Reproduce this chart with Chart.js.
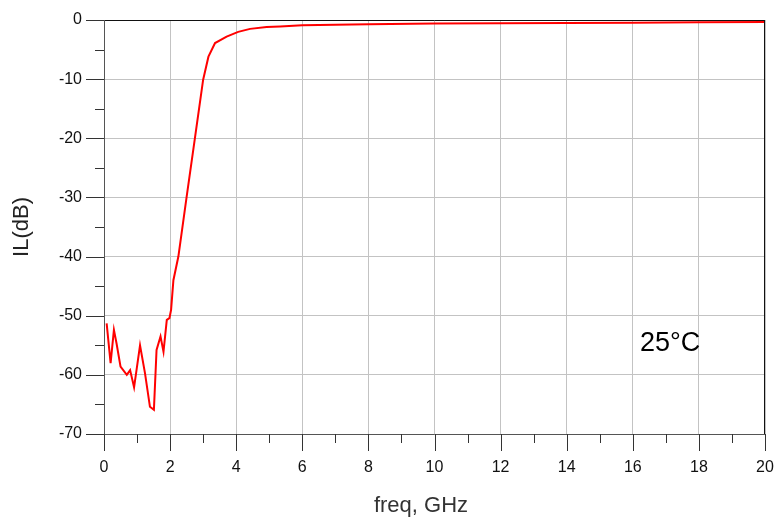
<!DOCTYPE html>
<html>
<head>
<meta charset="utf-8">
<script src="https://cdn.jsdelivr.net/npm/chart.js@4"></script>
<style>
  html, body { margin: 0; padding: 0; background: #fff; }
  #grafica { display: block; }
</style>
</head>
<body>
<canvas id="grafica"></canvas>
<script>
// datos
const freq = [0.08, 0.2, 0.3, 0.38, 0.5, 0.69, 0.79, 0.91, 1.09, 1.24, 1.39, 1.51, 1.59, 1.71, 1.8, 1.9, 1.98, 2.03, 2.1, 2.25, 2.5, 2.75, 3.0, 3.16, 3.36, 3.71, 4.06, 4.42, 4.92, 5.33, 6, 7, 8, 10, 12, 14, 16, 18, 20];
const il = [-51.3, -58.0, -52.4, -54.7, -58.6, -60.0, -59.2, -62.1, -55.0, -59.7, -65.4, -65.9, -55.8, -53.5, -56.1, -50.7, -50.4, -49.0, -44.0, -40.0, -29.9, -20.0, -10.1, -6.2, -3.9, -2.8, -2.0, -1.5, -1.2, -1.1, -0.9, -0.8, -0.7, -0.6, -0.55, -0.5, -0.45, -0.4, -0.35];
const xTicks = [0, 2, 4, 6, 8, 10, 12, 14, 16, 18, 20];
const yTicks = [0, -10, -20, -30, -40, -50, -60, -70];
const etiqueta = "25°C";
const tituloX = "freq, GHz";

const canvas = document.getElementById("grafica");
canvas.width = 777;
canvas.height = 518;

const puntos = freq.map((f, i) => ({ x: f, y: il[i] }));
const fuente = "'Liberation Sans', Arial, sans-serif";

// marco, marcas menores, titulo del eje x y etiqueta de temperatura
const marco = {
    id: "marco",
    afterDraw(chart) {
        const ctx = chart.ctx;
        const a = chart.chartArea;
        const sx = chart.scales.x;
        const sy = chart.scales.y;
        ctx.save();
        ctx.lineWidth = 1;
        ctx.strokeStyle = "#111";
        ctx.beginPath();
        ctx.moveTo(a.left, a.top + 0.5);
        ctx.lineTo(a.right, a.top + 0.5);
        ctx.moveTo(a.right - 0.5, a.top);
        ctx.lineTo(a.right - 0.5, a.bottom);
        ctx.stroke();
        ctx.strokeStyle = "#555";
        ctx.beginPath();
        ctx.moveTo(a.left + 0.5, a.top);
        ctx.lineTo(a.left + 0.5, a.bottom);
        ctx.moveTo(a.left, a.bottom + 0.5);
        ctx.lineTo(a.right, a.bottom + 0.5);
        ctx.stroke();
        ctx.strokeStyle = "#333";
        ctx.beginPath();
        for (let v = 0; v <= 20; v += 1) {
            const px = Math.round(sx.getPixelForValue(v)) + 0.5;
            const len = v % 2 === 0 ? 17 : 9;
            ctx.moveTo(px, a.bottom);
            ctx.lineTo(px, a.bottom + len);
        }
        for (let v = 0; v >= -70; v -= 5) {
            const py = Math.round(sy.getPixelForValue(v)) + 0.5;
            const len = v % 10 === 0 ? 18 : 9;
            ctx.moveTo(a.left, py);
            ctx.lineTo(a.left - len, py);
        }
        ctx.stroke();
        ctx.textAlign = "center";
        ctx.textBaseline = "alphabetic";
        ctx.fillStyle = "#333";
        ctx.font = "22px " + fuente;
        ctx.fillText(tituloX, 421, 512);
        ctx.fillStyle = "#000";
        ctx.font = "27px " + fuente;
        ctx.fillText(etiqueta, sx.getPixelForValue(17.13), 351);
        ctx.restore();
    }
};

new Chart(canvas, {
    type: "line",
    data: {
        datasets: [
            {
                label: "IL",
                data: puntos,
                borderColor: "rgba(255, 0, 0, 1)",
                backgroundColor: "rgba(255, 0, 0, 1)",
                borderWidth: 2,
                pointRadius: 0,
                tension: 0
            }
        ]
    },
    options: {
        responsive: false,
        animation: false,
        layout: { padding: { top: 20, right: 12, left: 0, bottom: 0 } },
        plugins: {
            legend: { display: false },
            tooltip: { enabled: false }
        },
        scales: {
            x: {
                type: "linear",
                min: 0,
                max: 20,
                afterFit: s => { s.height = 84; s.paddingLeft = 0; s.paddingRight = 0; },
                afterBuildTicks: s => { s.ticks = xTicks.map(v => ({ value: v })); },
                ticks: {
                    color: "#111",
                    font: { family: fuente, size: 16 },
                    padding: 24,
                    maxRotation: 0
                },
                grid: {
                    color: "rgba(195, 195, 195, 1)",
                    drawTicks: false
                },
                border: { display: false }
            },
            y: {
                type: "linear",
                min: -70,
                max: 0,
                afterFit: s => { s.width = 104; s.paddingTop = 0; s.paddingBottom = 0; },
                afterBuildTicks: s => { s.ticks = yTicks.map(v => ({ value: v })); },
                title: {
                    display: true,
                    text: "IL(dB)",
                    color: "#222",
                    font: { family: fuente, size: 22 },
                    padding: { top: 9, bottom: 0 }
                },
                ticks: {
                    color: "#111",
                    font: { family: fuente, size: 16 },
                    padding: 22
                },
                grid: {
                    color: "rgba(195, 195, 195, 1)",
                    drawTicks: false
                },
                border: { display: false }
            }
        }
    },
    plugins: [marco]
});
</script>
</body>
</html>
